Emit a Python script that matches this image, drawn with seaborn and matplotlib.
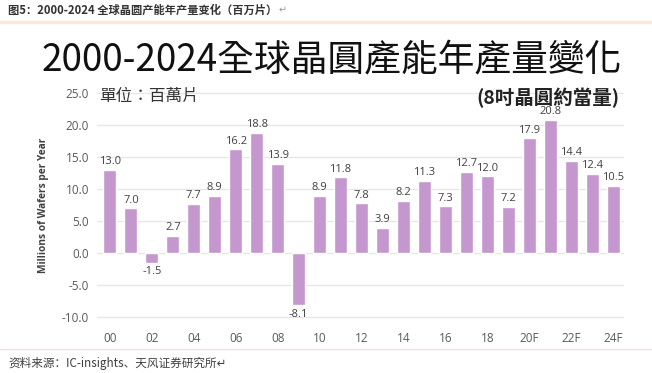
import matplotlib
matplotlib.use("Agg")
import matplotlib.pyplot as plt
import seaborn as sns
import pandas as pd

years = ["00", "01", "02", "03", "04", "05", "06", "07", "08", "09", "10", "11", "12",
         "13", "14", "15", "16", "17", "18", "19", "20F", "21F", "22F", "23F", "24F"]
capacity = [13.0, 7.0, -1.5, 2.7, 7.7, 8.9, 16.2, 18.8, 13.9, -8.1, 8.9, 11.8, 7.8,
            3.9, 8.2, 11.3, 7.3, 12.7, 12.0, 7.2, 17.9, 20.8, 14.4, 12.4, 10.5]
y_ticks = [-10, -5, 0, 5, 10, 15, 20, 25]

sns.set_style("white")
plt.rcParams['font.family'] = ['Noto Sans CJK SC', 'DejaVu Sans']

df = pd.DataFrame({"year": years, "value": capacity})

W, H = 652, 373
fig = plt.figure(figsize=(W / 100, H / 100), dpi=100)

# axes placed in pixel coordinates of the reference
left, right = 97.4, 623.5
top_px, bot_px = 86.6, 323.4
ax = fig.add_axes([left / W, 1 - bot_px / H, (right - left) / W, (bot_px - top_px) / H])

sns.barplot(data=df, x="year", y="value", color="#c497cf", width=0.62,
            saturation=1, ax=ax, zorder=3)
ax.set_xlim(-0.6, 24.5)
ax.set_ylim(-11, 26)
ax.set_yticks(y_ticks)
ax.set_yticklabels([f"{t:.1f}" for t in y_ticks], color="#595959", fontsize=8.5,
                   family=["Open Sans", "DejaVu Sans"])
ax.set_xticks(range(0, 25, 2))
ax.set_xticklabels(years[::2], color="#595959", fontsize=8.5, family=["Open Sans", "DejaVu Sans"])
ax.tick_params(axis="both", length=0, pad=6)
ax.yaxis.grid(True, color="#e6e6e6", linewidth=0.9, zorder=0)
ax.xaxis.grid(False)
for s in ax.spines.values():
    s.set_visible(False)
ax.set_xlabel("")
ax.set_ylabel("Millions of Wafers per Year", fontsize=7.3, fontweight="bold", color="#404040",
              family=["Open Sans", "DejaVu Sans"], labelpad=9)

for i, v in enumerate(capacity):
    off = 0.4 if v >= 0 else -0.6
    ax.text(i, v + off, f"{v:.1f}", ha="center", va="bottom" if v >= 0 else "top",
            fontsize=8, color="#404040", family=["Open Sans", "DejaVu Sans"], zorder=4)

ax.text(-0.5, 24.5, "單位：百萬片", fontsize=12, color="#333333", va="center",
        family=["Noto Sans CJK TC", "DejaVu Sans"])
ax.text(24.3, 24.3, "(8吋晶圓約當量)", fontsize=14, fontweight="bold", color="#222222",
        ha="right", va="center", family=["Noto Sans CJK TC", "DejaVu Sans"])

fig.text(332 / W, 1 - 60 / H, "2000-2024全球晶圓產能年產量變化", fontsize=26.5, color="#111111",
         ha="center", va="center", family=["Noto Sans CJK TC", "DejaVu Sans"])

# document caption and source
fig.text(8 / W, 1 - 10 / H, "图5：2000-2024 全球晶圆产能年产量变化（百万片）", fontsize=8.1,
         color="#333333", va="center", fontweight="bold")
fig.text(279 / W, 1 - 10 / H, "↵", fontsize=7, color="#999999", va="center")
fig.add_artist(plt.Line2D([0, 1], [1 - 22 / H, 1 - 22 / H], color="#f8ebdc", linewidth=2.5))
fig.add_artist(plt.Line2D([0, 1], [1 - 349 / H, 1 - 349 / H], color="#ebe6cc", linewidth=1))
fig.text(8 / W, 1 - 363 / H, "资料来源：IC-insights、天风证券研究所↵", fontsize=8.4,
         color="#404040", va="center")

fig.savefig("out.png", dpi=100, facecolor="white")
